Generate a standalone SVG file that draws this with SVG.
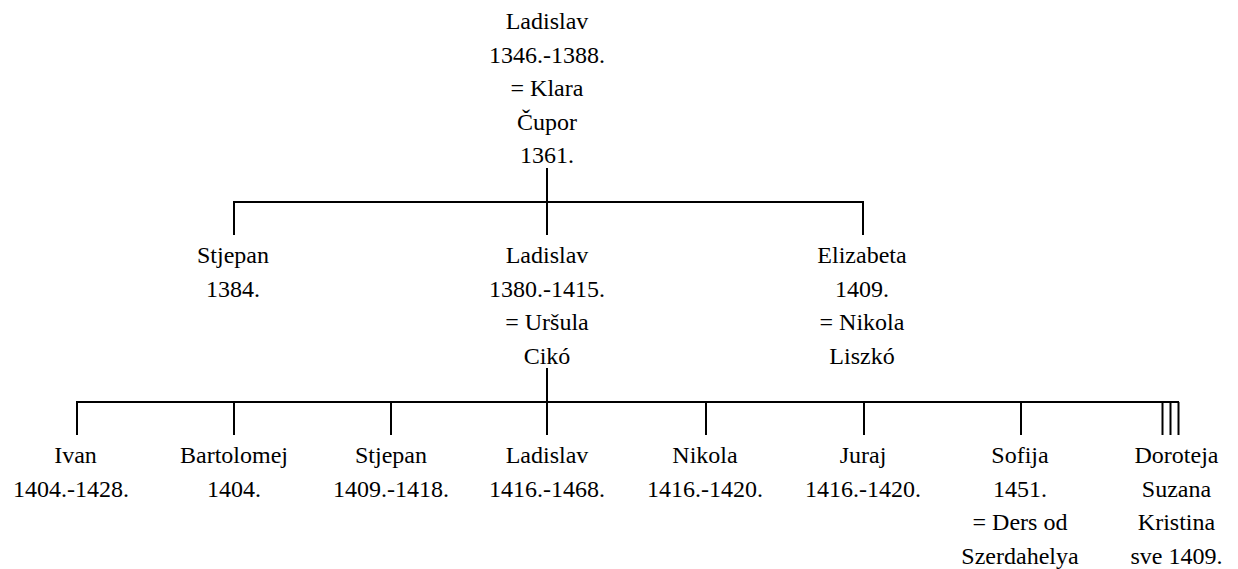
<svg xmlns="http://www.w3.org/2000/svg" width="1238" height="569" viewBox="0 0 1238 569">
<style>
.t text{font-size:24px;fill:#000;text-anchor:middle}
.c line{stroke:#000;stroke-width:2;fill:none}
</style>
<rect width="1238" height="569" fill="#fff"/>
<g class="c" id="connectors">
<line x1="547" y1="168" x2="547" y2="202"/>
<line x1="233" y1="202" x2="864" y2="202"/>
<line x1="234" y1="202" x2="234" y2="235"/>
<line x1="547" y1="202" x2="547" y2="235"/>
<line x1="863" y1="202" x2="863" y2="235"/>
<line x1="547" y1="368" x2="547" y2="402"/>
<line x1="76" y1="402" x2="1179" y2="402"/>
<line x1="77" y1="402" x2="77" y2="435"/>
<line x1="234" y1="402" x2="234" y2="435"/>
<line x1="391" y1="402" x2="391" y2="435"/>
<line x1="547" y1="402" x2="547" y2="435"/>
<line x1="706" y1="402" x2="706" y2="435"/>
<line x1="864" y1="402" x2="864" y2="435"/>
<line x1="1021" y1="402" x2="1021" y2="435"/>
<line x1="1162.5" y1="402" x2="1162.5" y2="435"/>
<line x1="1170.5" y1="402" x2="1170.5" y2="435"/>
<line x1="1178.5" y1="402" x2="1178.5" y2="435"/>
</g>
<g class="t" font-family="'Liberation Serif', 'Times New Roman', 'DejaVu Serif', serif">
<g id="n-ladislav-1346">
<text x="547" y="29">Ladislav</text>
<text x="547" y="62.5">1346.-1388.</text>
<text x="547" y="96">= Klara</text>
<text x="547" y="129.5">Čupor</text>
<text x="547" y="163">1361.</text>
</g>
<g id="n-stjepan-1384">
<text x="233" y="263">Stjepan</text>
<text x="233" y="296.5">1384.</text>
</g>
<g id="n-ladislav-1380">
<text x="547" y="263">Ladislav</text>
<text x="547" y="296.5">1380.-1415.</text>
<text x="547" y="330">= Uršula</text>
<text x="547" y="363.5">Cikó</text>
</g>
<g id="n-elizabeta">
<text x="862" y="263">Elizabeta</text>
<text x="862" y="296.5">1409.</text>
<text x="862" y="330">= Nikola</text>
<text x="862" y="363.5">Liszkó</text>
</g>
<g id="n-ivan">
<text x="75.5" y="463">Ivan</text>
<text x="71" y="496.5">1404.-1428.</text>
</g>
<g id="n-bartolomej">
<text x="234" y="463">Bartolomej</text>
<text x="234" y="496.5">1404.</text>
</g>
<g id="n-stjepan-1409">
<text x="391" y="463">Stjepan</text>
<text x="391" y="496.5">1409.-1418.</text>
</g>
<g id="n-ladislav-1416">
<text x="547" y="463">Ladislav</text>
<text x="547" y="496.5">1416.-1468.</text>
</g>
<g id="n-nikola">
<text x="705" y="463">Nikola</text>
<text x="705" y="496.5">1416.-1420.</text>
</g>
<g id="n-juraj">
<text x="863" y="463">Juraj</text>
<text x="863" y="496.5">1416.-1420.</text>
</g>
<g id="n-sofija">
<text x="1020" y="463">Sofija</text>
<text x="1020" y="496.5">1451.</text>
<text x="1020" y="530">= Ders od</text>
<text x="1020" y="563.5">Szerdahelya</text>
</g>
<g id="n-doroteja-suzana-kristina">
<text x="1176.5" y="463">Doroteja</text>
<text x="1176.5" y="496.5">Suzana</text>
<text x="1176.5" y="530">Kristina</text>
<text x="1176.5" y="563.5">sve 1409.</text>
</g>
</g>
</svg>
